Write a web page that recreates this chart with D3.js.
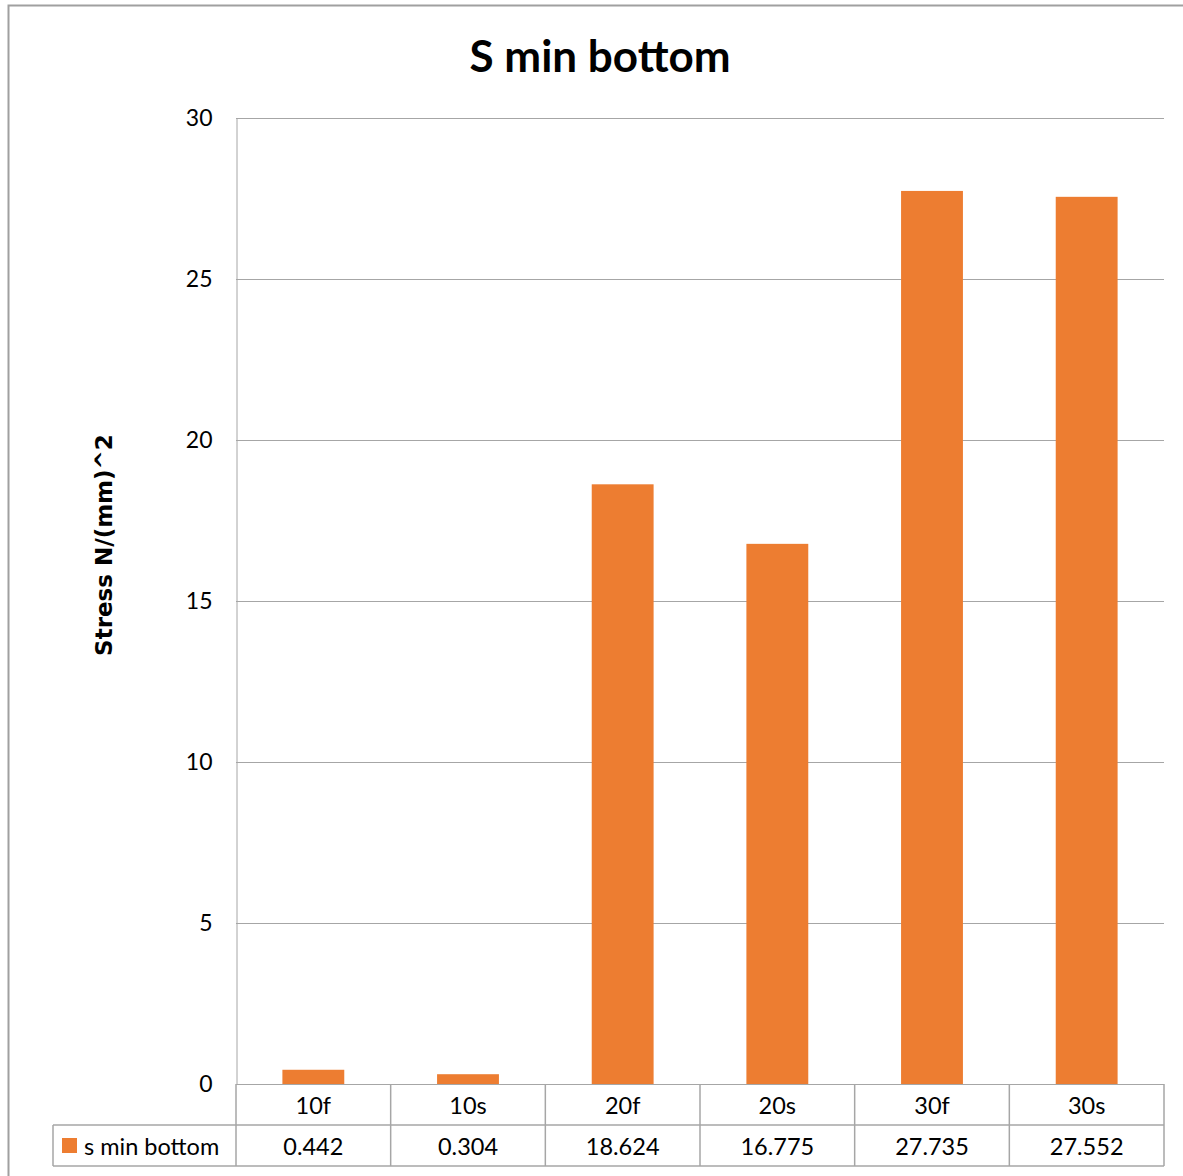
<!DOCTYPE html>
<html>
<head>
<meta charset="utf-8">
<script src="https://cdn.jsdelivr.net/npm/d3@7/dist/d3.min.js"></script>
<style>
  html, body { margin: 0; padding: 0; background: #ffffff; }
  svg { display: block; }
  text { font-family: Lato, "Open Sans", sans-serif; fill: #000; }
</style>
</head>
<body>
<svg id="chart" width="1183" height="1176"></svg>
<script>
// Chart data
const categories = ["10f", "10s", "20f", "20s", "30f", "30s"];
const seriesName = "s min bottom";
const values = [0.442, 0.304, 18.624, 16.775, 27.735, 27.552];
const valueLabels = ["0.442", "0.304", "18.624", "16.775", "27.735", "27.552"];
const yTicks = [0, 5, 10, 15, 20, 25, 30];
const titleText = "S min bottom";
const yAxisTitle = "Stress N/(mm)^2";

const svg = d3.select("#chart");
const W = 1183, H = 1176;

const plot = { left: 236, right: 1164, top: 118, bottom: 1084 };
const rowH = 41;
const legendLeft = 53;
const barColor = "#ED7D31";
const gridColor = "#A6A6A6";
const borderColor = "#A0A0A0";

svg.append("rect").attr("width", W).attr("height", H).attr("fill", "#fff");

// outer chart frame
svg.append("rect")
  .attr("x", 8.5).attr("y", 5.5)
  .attr("width", 1300).attr("height", 1300)
  .attr("fill", "none").attr("stroke", borderColor).attr("stroke-width", 2);

const x = d3.scaleBand().domain(categories).range([plot.left, plot.right]).padding(0);
const y = d3.scaleLinear().domain([0, 30]).range([plot.bottom, plot.top]);

// horizontal gridlines
svg.append("g")
  .selectAll("line")
  .data(yTicks.filter(t => t > 0))
  .join("line")
  .attr("x1", plot.left).attr("x2", plot.right)
  .attr("y1", d => Math.round(y(d)) + 0.5).attr("y2", d => Math.round(y(d)) + 0.5)
  .attr("stroke", gridColor).attr("stroke-width", 1);

// y axis
const yAxis = d3.axisLeft(y).tickValues(yTicks).tickSize(0).tickPadding(24).tickFormat(d3.format("d"));
const gy = svg.append("g").attr("transform", `translate(${plot.left + 0.5},0)`).call(yAxis);
gy.select(".domain").attr("stroke", gridColor);
gy.selectAll("text").style("font-size", "23px").attr("font-family", "Lato, 'Open Sans', sans-serif").attr("fill", "#000");

// bars
const barW = x.bandwidth() * 0.4;
svg.append("g")
  .selectAll("rect")
  .data(values)
  .join("rect")
  .attr("x", (d, i) => x(categories[i]) + (x.bandwidth() - barW) / 2)
  .attr("y", d => y(d))
  .attr("width", barW)
  .attr("height", d => y(0) - y(d))
  .attr("fill", barColor);

// baseline
svg.append("line")
  .attr("x1", plot.left).attr("x2", plot.right)
  .attr("y1", plot.bottom + 0.5).attr("y2", plot.bottom + 0.5)
  .attr("stroke", gridColor);

// data table
const t = svg.append("g").attr("fill", "none").attr("stroke", gridColor).attr("stroke-width", 1.5);
const r0 = plot.bottom, r1 = plot.bottom + rowH, r2 = plot.bottom + 2 * rowH;
t.append("line").attr("x1", plot.left).attr("x2", plot.right).attr("y1", r1).attr("y2", r1);
t.append("line").attr("x1", legendLeft).attr("x2", plot.right).attr("y1", r2).attr("y2", r2);
t.append("line").attr("x1", legendLeft).attr("x2", plot.left).attr("y1", r1).attr("y2", r1);
t.append("line").attr("x1", legendLeft).attr("x2", legendLeft).attr("y1", r1).attr("y2", r2);
t.selectAll("line.col")
  .data(categories.concat(["end"]))
  .join("line")
  .attr("class", "col")
  .attr("x1", (d, i) => i < categories.length ? x(d) : plot.right)
  .attr("x2", (d, i) => i < categories.length ? x(d) : plot.right)
  .attr("y1", r0).attr("y2", r2);

svg.append("g")
  .selectAll("text")
  .data(categories)
  .join("text")
  .attr("x", d => x(d) + x.bandwidth() / 2)
  .attr("y", r0 + rowH / 2)
  .attr("text-anchor", "middle").attr("dominant-baseline", "central")
  .style("font-size", "23.5px")
  .text(d => d);

svg.append("g")
  .selectAll("text")
  .data(valueLabels)
  .join("text")
  .attr("x", (d, i) => x(categories[i]) + x.bandwidth() / 2)
  .attr("y", r1 + rowH / 2)
  .attr("text-anchor", "middle").attr("dominant-baseline", "central")
  .style("font-size", "23.5px")
  .text(d => d);

// legend key in the table
svg.append("rect")
  .attr("x", 62).attr("y", r1 + 13).attr("width", 15).attr("height", 15)
  .attr("fill", barColor);
svg.append("text")
  .attr("x", 84).attr("y", r1 + rowH / 2)
  .attr("dominant-baseline", "central")
  .style("font-size", "23.5px")
  .text(seriesName);

// title
svg.append("text")
  .attr("x", 600).attr("y", 72)
  .attr("text-anchor", "middle")
  .style("font-size", "44px").style("font-weight", "bold")
  .text(titleText);

// y axis title
svg.append("text")
  .attr("transform", `translate(112,545) rotate(-90)`)
  .attr("text-anchor", "middle")
  .style("font-family", "'DejaVu Sans', sans-serif")
  .style("font-size", "23px").style("font-weight", "bold")
  .text(yAxisTitle);
</script>
</body>
</html>
